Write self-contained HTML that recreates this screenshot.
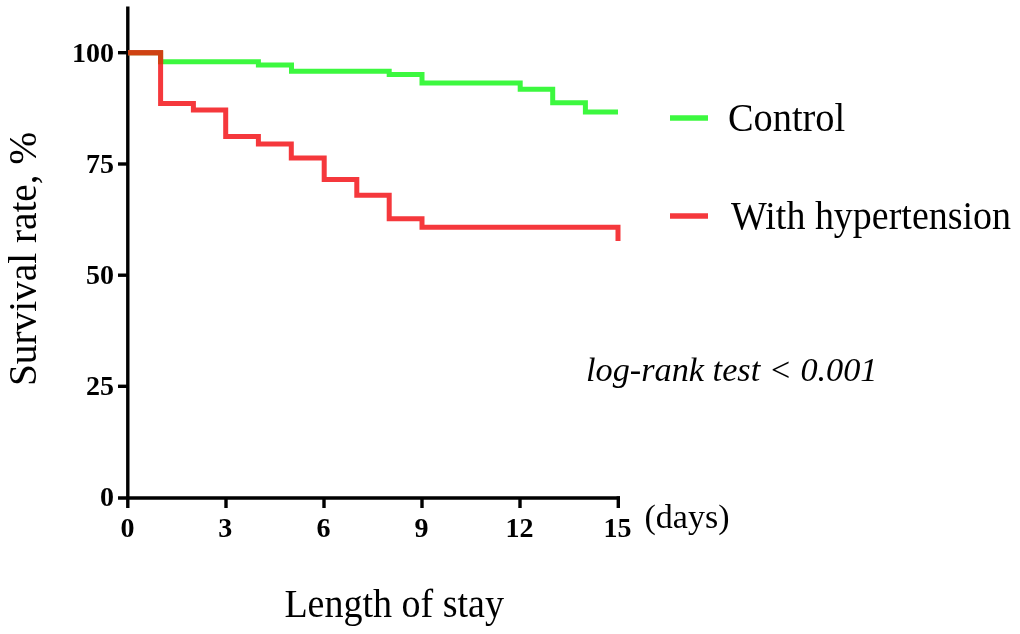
<!DOCTYPE html>
<html>
<head>
<meta charset="utf-8">
<style>
html,body{margin:0;padding:0;background:#fff;}
body{width:1020px;height:634px;overflow:hidden;position:relative;}
svg{position:absolute;left:0;top:0;will-change:transform;}
text{font-family:"Liberation Serif",serif;}
.b{font-weight:bold;font-size:28px;}
</style>
</head>
<body>
<svg width="1020" height="634" viewBox="0 0 1020 634">
  <!-- axes -->
  <g stroke="#000" stroke-width="3.4" fill="none">
    <line x1="127.8" y1="6.6" x2="127.8" y2="508"/>
    <line x1="118" y1="498" x2="620" y2="498"/>
    <line x1="118" y1="52.7" x2="128" y2="52.7"/>
    <line x1="118" y1="164" x2="128" y2="164"/>
    <line x1="118" y1="275.2" x2="128" y2="275.2"/>
    <line x1="118" y1="386.3" x2="128" y2="386.3"/>
    <line x1="226" y1="498" x2="226" y2="508"/>
    <line x1="324" y1="498" x2="324" y2="508"/>
    <line x1="422" y1="498" x2="422" y2="508"/>
    <line x1="520" y1="498" x2="520" y2="508"/>
    <line x1="618.3" y1="496.3" x2="618.3" y2="508"/>
  </g>
  <!-- curves -->
  <path d="M128,52.7 H160.6 V61.8 H258.4 V65 H291.5 V71.2 H389.2 V74.4 H422 V82.9 H520.2 V89.2 H552.7 V102.8 H585.4 V112.1 H618" fill="none" stroke="#3cf83f" stroke-width="5" stroke-linejoin="miter" stroke-linecap="butt"/>
  <path d="M128,52.7 H160.6 V103.4 H193.4 V109.9 H225.7 V136.5 H258.4 V144 H291.3 V158 H324.2 V179.5 H356.8 V195.3 H389.2 V218.7 H422 V227.3 H618 V241" fill="none" stroke="#f5383c" stroke-width="5" stroke-linejoin="miter" stroke-linecap="butt"/>
  <path d="M128,52.7 H160.6 V64.3" fill="none" stroke="#cf4212" stroke-width="5" stroke-linejoin="miter" stroke-linecap="butt"/>
  <!-- y tick labels -->
  <g class="b" text-anchor="end">
    <text x="114" y="62">100</text>
    <text x="114" y="173">75</text>
    <text x="114" y="284">50</text>
    <text x="114" y="395">25</text>
    <text x="114" y="506">0</text>
  </g>
  <g class="b" text-anchor="middle">
    <text x="127.6" y="536.8">0</text>
    <text x="225.3" y="536.8">3</text>
    <text x="323.6" y="536.8">6</text>
    <text x="421.6" y="536.8">9</text>
    <text x="519.4" y="536.8">12</text>
    <text x="617.6" y="536.8">15</text>
  </g>
  <text x="644.5" y="528" font-size="34">(days)</text>
  <!-- legend -->
  <line x1="670" y1="118" x2="708" y2="118" stroke="#3cf83f" stroke-width="5.5"/>
  <line x1="670" y1="216" x2="708" y2="216" stroke="#f5383c" stroke-width="5.5"/>
  <text x="728" y="131.4" font-size="41" textLength="117.2" lengthAdjust="spacingAndGlyphs">Control</text>
  <text x="731" y="229" font-size="41" textLength="280" lengthAdjust="spacingAndGlyphs">With hypertension</text>
  <text x="586.1" y="381" font-size="34.5" font-style="italic" textLength="291.4" lengthAdjust="spacingAndGlyphs">log-rank test &lt; 0.001</text>
  <text transform="translate(35.5,386) rotate(-90)" font-size="41" textLength="254.1" lengthAdjust="spacingAndGlyphs">Survival rate, %</text>
  <text x="284.4" y="617.4" font-size="40.5" textLength="219.6" lengthAdjust="spacingAndGlyphs">Length of stay</text>
</svg>
</body>
</html>
